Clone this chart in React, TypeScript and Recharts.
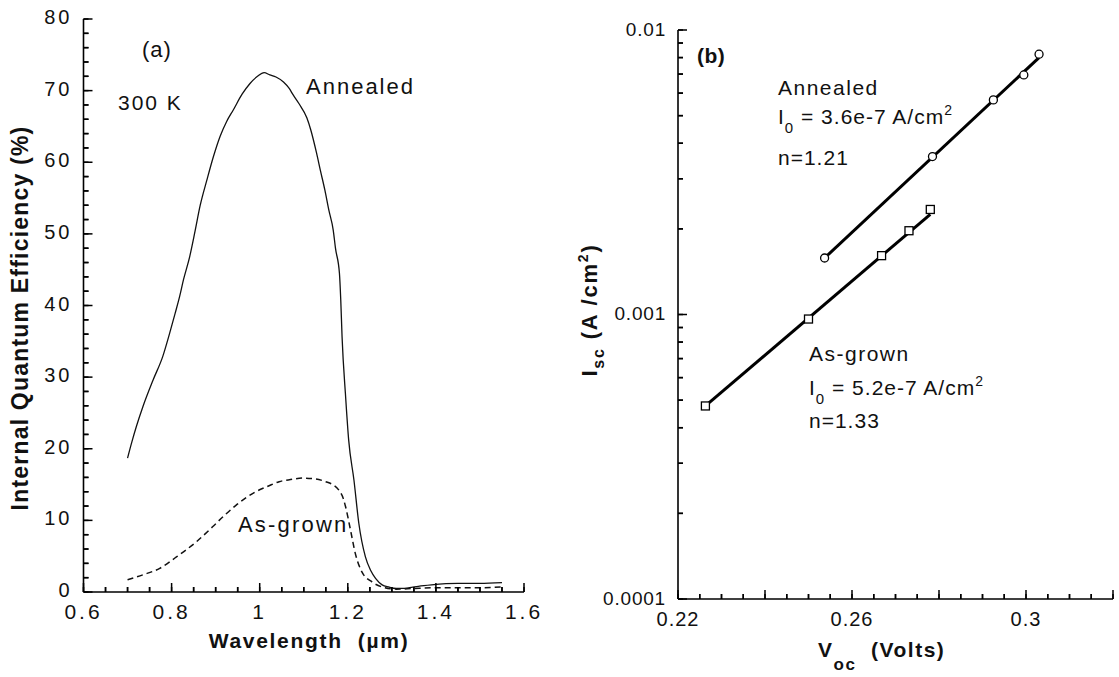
import React from 'react';
import { ComposedChart, Line, Scatter, XAxis, YAxis } from 'recharts';

const FONT = '"Liberation Sans", Arial, Helvetica, sans-serif';

// ---------- Panel (a): internal quantum efficiency vs wavelength ----------
const wavelengthAnnealed = [0.700, 0.710, 0.720, 0.735, 0.758, 0.780, 0.795, 0.808, 0.818, 0.827, 0.841, 0.853, 0.865, 0.880, 0.895, 0.910, 0.925, 0.940, 0.960, 0.978, 0.995, 1.010, 1.023, 1.037, 1.054, 1.067, 1.076, 1.089, 1.107, 1.116, 1.129, 1.138, 1.148, 1.157, 1.167, 1.172, 1.181, 1.184, 1.187, 1.195, 1.202, 1.214, 1.225, 1.240, 1.252, 1.263, 1.278, 1.293, 1.310, 1.322, 1.340, 1.360, 1.390, 1.450, 1.500, 1.550];
const iqeAnnealed = [18.7, 21.0, 23.1, 25.9, 29.6, 32.9, 36.0, 38.9, 41.2, 43.6, 46.8, 50.3, 54.0, 57.5, 60.8, 63.6, 65.7, 67.3, 69.5, 71.0, 72.0, 72.5, 72.2, 71.9, 71.2, 70.3, 69.4, 68.2, 66.2, 64.5, 61.3, 58.8, 56.1, 53.3, 50.5, 48.0, 44.5, 40.8, 35.6, 27.3, 21.2, 15.6, 9.6, 4.9, 3.0, 1.9, 1.0, 0.7, 0.5, 0.5, 0.6, 0.8, 1.0, 1.2, 1.2, 1.3];
const wavelengthAsGrown = [0.700, 0.735, 0.773, 0.811, 0.856, 0.893, 0.920, 0.946, 0.970, 0.991, 1.020, 1.044, 1.070, 1.097, 1.125, 1.150, 1.168, 1.180, 1.190, 1.195, 1.206, 1.217, 1.232, 1.255, 1.278, 1.310, 1.350, 1.400, 1.450, 1.500, 1.550];
const iqeAsGrown = [1.7, 2.4, 3.3, 4.9, 7.0, 9.1, 10.7, 12.1, 13.2, 14.0, 14.8, 15.4, 15.7, 15.9, 15.8, 15.4, 14.9, 14.2, 13.0, 11.9, 8.7, 5.4, 2.8, 1.4, 0.7, 0.4, 0.5, 0.6, 0.6, 0.6, 0.7];

const aXTicks = [0.6, 0.65, 0.7, 0.75, 0.8, 0.85, 0.9, 0.95, 1.0, 1.05, 1.1, 1.15, 1.2, 1.25, 1.3, 1.35, 1.4, 1.45, 1.5, 1.55, 1.6];
const aXMajor = [0.6, 0.8, 1.0, 1.2, 1.4, 1.6];
const aXLabels = ['0.6', '0.8', '1', '1.2', '1.4', '1.6'];
const aYTicks = [0, 2, 4, 6, 8, 10, 12, 14, 16, 18, 20, 22, 24, 26, 28, 30, 32, 34, 36, 38, 40, 42, 44, 46, 48, 50, 52, 54, 56, 58, 60, 62, 64, 66, 68, 70, 72, 74, 76, 78, 80];
const aYMajor = [0, 10, 20, 30, 40, 50, 60, 70, 80];
const aYLabels = ['0', '10', '20', '30', '40', '50', '60', '70', '80'];

// ---------- Panel (b): Isc vs Voc ----------
const vocAnnealed = [0.2537, 0.2785, 0.2925, 0.2995, 0.3030];
const iscAnnealed = [0.00158, 0.00359, 0.00568, 0.00695, 0.00822];
const vocAsGrown = [0.2263, 0.2500, 0.2668, 0.2731, 0.2780];
const iscAsGrown = [0.000477, 0.000964, 0.00161, 0.00197, 0.00234];
const fitAnnealedV = [0.2537, 0.3030];
const fitAnnealedI = [0.00158, 0.0080];
const fitAsGrownV = [0.2263, 0.2780];
const fitAsGrownI = [0.000477, 0.00225];

const bXTicks = [0.22, 0.225, 0.23, 0.235, 0.24, 0.245, 0.25, 0.255, 0.26, 0.265, 0.27, 0.275, 0.28, 0.285, 0.29, 0.295, 0.3, 0.305, 0.31, 0.315, 0.32];
const bXLong = [0.22, 0.24, 0.26, 0.28, 0.3, 0.32];
const bXMajor = [0.22, 0.26, 0.3];
const bXLabels = ['0.22', '0.26', '0.3'];
const bYTicks = [0.0001, 0.0002, 0.0003, 0.0004, 0.0005, 0.0006, 0.0007, 0.0008, 0.0009, 0.001, 0.002, 0.003, 0.004, 0.005, 0.006, 0.007, 0.008, 0.009, 0.01];
const bYMajor = [0.0001, 0.001, 0.01];
const bYLabels = ['0.0001', '0.001', '0.01'];

const zip = (xs: number[], ys: number[], kx: string, ky: string) =>
  xs.map((x, i) => ({ [kx]: x, [ky]: ys[i] }));

const annealedCurve = zip(wavelengthAnnealed, iqeAnnealed, 'x', 'y');
const asGrownCurve = zip(wavelengthAsGrown, iqeAsGrown, 'x', 'y');
const annealedPts = zip(vocAnnealed, iscAnnealed, 'v', 'i');
const asGrownPts = zip(vocAsGrown, iscAsGrown, 'v', 'i');
const annealedFit = zip(fitAnnealedV, fitAnnealedI, 'v', 'i');
const asGrownFit = zip(fitAsGrownV, fitAsGrownI, 'v', 'i');

const idx = (arr: number[], v: number) =>
  arr.findIndex((a) => Math.abs(a - v) <= Math.abs(a) * 1e-6 + 1e-9);

const SHORT = 5; // native inward tick length (negative tickSize)

type TickOpts = {
  major: number[];
  labels?: string[];
  long?: number[];
  fontSize?: number;
  ls?: number;
  gap?: number;
  longLen?: number;
  dy?: string;
};

// custom tick: extends long ticks and writes labels. (x,y) = axis position shifted inward by SHORT.
const makeTick = (side: 'bottom' | 'top' | 'left' | 'right', o: TickOpts) => (p: any) => {
  const { payload } = p;
  const px = Number(p.x);
  const py = Number(p.y);
  const v = payload.value;
  const li = idx(o.major, v);
  const isLong = idx(o.long || o.major, v) >= 0;
  const len = isLong ? (o.longLen ?? 9) : SHORT;
  let ax = px, ay = py, ex = px, ey = py;
  if (side === 'bottom') { ay = py + SHORT; ey = ay - len; }
  if (side === 'top') { ay = py - SHORT; ey = ay + len; }
  if (side === 'left') { ax = px - SHORT; ex = ax + len; }
  if (side === 'right') { ax = px + SHORT; ex = ax - len; }
  const showLabel = !!o.labels && li >= 0;
  return (
    <g>
      <path d={`M${ax},${ay}L${ex},${ey}`} stroke="#000" strokeWidth={1.5} fill="none" />
      {showLabel && side === 'bottom' && (
        <text x={ax} y={ay + (o.gap ?? 26)} textAnchor="middle" fontSize={o.fontSize} fontFamily={FONT} fill="#111" style={{ letterSpacing: o.ls }}>
          {o.labels![li]}
        </text>
      )}
      {showLabel && side === 'left' && (
        <text x={ax - (o.gap ?? 10)} y={ay} dy={o.dy ?? '0.3em'} textAnchor="end" fontSize={o.fontSize} fontFamily={FONT} fill="#111" style={{ letterSpacing: o.ls }}>
          {o.labels![li]}
        </text>
      )}
    </g>
  );
};

const axisLineStyle = { stroke: '#000', strokeWidth: 1.6 };
const tickLineStyle = { stroke: '#000', strokeWidth: 1.5 };
const common = { tickSize: -SHORT, tickMargin: 0, tickLine: tickLineStyle, axisLine: axisLineStyle, interval: 0 as const, allowDataOverflow: true };

const PanelA = () => (
  <ComposedChart width={560} height={677} margin={{ top: 19, right: 36, bottom: 0, left: 0 }}>
    <XAxis {...common} dataKey="x" type="number" domain={[0.6, 1.6]} ticks={aXTicks} height={85}
      tick={makeTick('bottom', { major: aXMajor, labels: aXLabels, fontSize: 21, ls: 3, gap: 27 })} />
    <XAxis {...common} xAxisId="top" orientation="top" type="number" domain={[0.6, 1.6]} ticks={aXTicks} height={0}
      tick={makeTick('top', { major: aXMajor })} />
    <YAxis {...common} dataKey="y" type="number" domain={[0, 80]} ticks={aYTicks} width={83.5}
      tick={makeTick('left', { major: aYMajor, labels: aYLabels, fontSize: 20, ls: 3, gap: 11, dy: '0.25em' })} />
    <YAxis {...common} yAxisId="right" orientation="right" type="number" domain={[0, 80]} ticks={aYTicks} width={0}
      tick={makeTick('right', { major: aYMajor })} />
    <Line data={annealedCurve} dataKey="y" type="monotone" stroke="#111" strokeWidth={1.3} dot={false} isAnimationActive={false} />
    <Line data={asGrownCurve} dataKey="y" type="monotone" stroke="#111" strokeWidth={1.5} strokeDasharray="6 4" dot={false} isAnimationActive={false} />
  </ComposedChart>
);

const CircleMark = (p: any) => <circle cx={p.cx} cy={p.cy} r={4} fill="#fff" stroke="#000" strokeWidth={1.3} />;
const SquareMark = (p: any) => <rect x={p.cx - 4} y={p.cy - 4} width={8} height={8} fill="#fff" stroke="#000" strokeWidth={1.3} />;

const PanelB = () => (
  <ComposedChart width={559} height={677} margin={{ top: 30, right: 6, bottom: 0, left: 0 }}>
    <XAxis {...common} dataKey="v" type="number" domain={[0.22, 0.32]} ticks={bXTicks} height={78}
      tick={makeTick('bottom', { major: bXMajor, labels: bXLabels, long: bXLong, fontSize: 20, ls: 1, gap: 27 })} />
    <XAxis {...common} xAxisId="top" orientation="top" type="number" domain={[0.22, 0.32]} ticks={bXTicks} height={0}
      tick={makeTick('top', { major: bXMajor, long: bXLong })} />
    <YAxis {...common} dataKey="i" type="number" scale="log" domain={[0.0001, 0.01]} ticks={bYTicks} width={118}
      tick={makeTick('left', { major: bYMajor, labels: bYLabels, fontSize: 19, ls: 0.8, gap: 12 })} />
    <YAxis {...common} yAxisId="right" orientation="right" type="number" scale="log" domain={[0.0001, 0.01]} ticks={bYTicks} width={0}
      tick={makeTick('right', { major: bYMajor })} />
    <Line data={annealedFit} dataKey="i" type="linear" stroke="#000" strokeWidth={3} dot={false} isAnimationActive={false} />
    <Line data={asGrownFit} dataKey="i" type="linear" stroke="#000" strokeWidth={3} dot={false} isAnimationActive={false} />
    <Scatter data={annealedPts} dataKey="i" shape={CircleMark} isAnimationActive={false} />
    <Scatter data={asGrownPts} dataKey="i" shape={SquareMark} isAnimationActive={false} />
  </ComposedChart>
);

const T = (props: any) => {
  const { ls, style, ...rest } = props;
  return <text fontFamily={FONT} fill="#111" {...rest} style={{ letterSpacing: ls ?? 1.5, whiteSpace: 'pre', ...(style || {}) }} />;
};

const Overlay = () => (
  <svg width={1119} height={677} style={{ position: 'absolute', left: 0, top: 0, pointerEvents: 'none' }}>
    {/* Panel (a) */}
    <T x={142} y={57} fontSize={22} ls={1}>(a)</T>
    <T x={118} y={110} fontSize={21} ls={2}>300 K</T>
    <T x={306} y={94} fontSize={22} ls={2}>Annealed</T>
    <T x={238} y={532} fontSize={22} ls={2.2}>As-grown</T>
    <T transform="translate(28,318) rotate(-90)" textAnchor="middle" fontSize={23} fontWeight="bold" ls={1.2}>
      Internal Quantum Efficiency (%)
    </T>
    <T x={309} y={648} textAnchor="middle" fontSize={21} fontWeight="bold" ls={1.7}>
      {'Wavelength  (µm)'}
    </T>
    {/* Panel (b) */}
    <T x={697} y={63} fontSize={21} fontWeight="bold" ls={0.5}>(b)</T>
    <T x={778} y={95} fontSize={21} ls={1.5}>Annealed</T>
    <T x={778} y={124} fontSize={21} ls={1}>
      I<tspan dy={9} fontSize={15}>0</tspan><tspan dy={-9}>{' = 3.6e-7 A/cm'}</tspan><tspan dy={-9} fontSize={14}>2</tspan>
    </T>
    <T x={778} y={165} fontSize={21} ls={1}>n=1.21</T>
    <T x={809} y={361} fontSize={21} ls={1.5}>As-grown</T>
    <T x={809} y={395} fontSize={21} ls={1}>
      I<tspan dy={9} fontSize={15}>0</tspan><tspan dy={-9}>{' = 5.2e-7 A/cm'}</tspan><tspan dy={-9} fontSize={14}>2</tspan>
    </T>
    <T x={809} y={428} fontSize={21} ls={1}>n=1.33</T>
    <T transform="translate(597,310) rotate(-90)" textAnchor="middle" fontSize={22} fontWeight="bold" ls={1.8}>
      I<tspan dy={7} fontSize={16}>sc</tspan><tspan dy={-7}>{' (A /cm'}</tspan><tspan dy={-9} fontSize={14}>2</tspan><tspan dy={9}>)</tspan>
    </T>
    <T x={818} y={657} fontSize={21} fontWeight="bold" ls={1.5}>
      V<tspan dy={13} fontSize={17}>oc</tspan><tspan dy={-13}>{'  (Volts)'}</tspan>
    </T>
  </svg>
);

export default function App() {
  return (
    <div style={{ position: 'absolute', left: 0, top: 0, width: 1119, height: 677, background: '#fff', overflow: 'hidden' }}>
      <div style={{ position: 'absolute', left: 0, top: 0 }}>
        <PanelA />
      </div>
      <div style={{ position: 'absolute', left: 560, top: 0 }}>
        <PanelB />
      </div>
      <Overlay />
    </div>
  );
}
